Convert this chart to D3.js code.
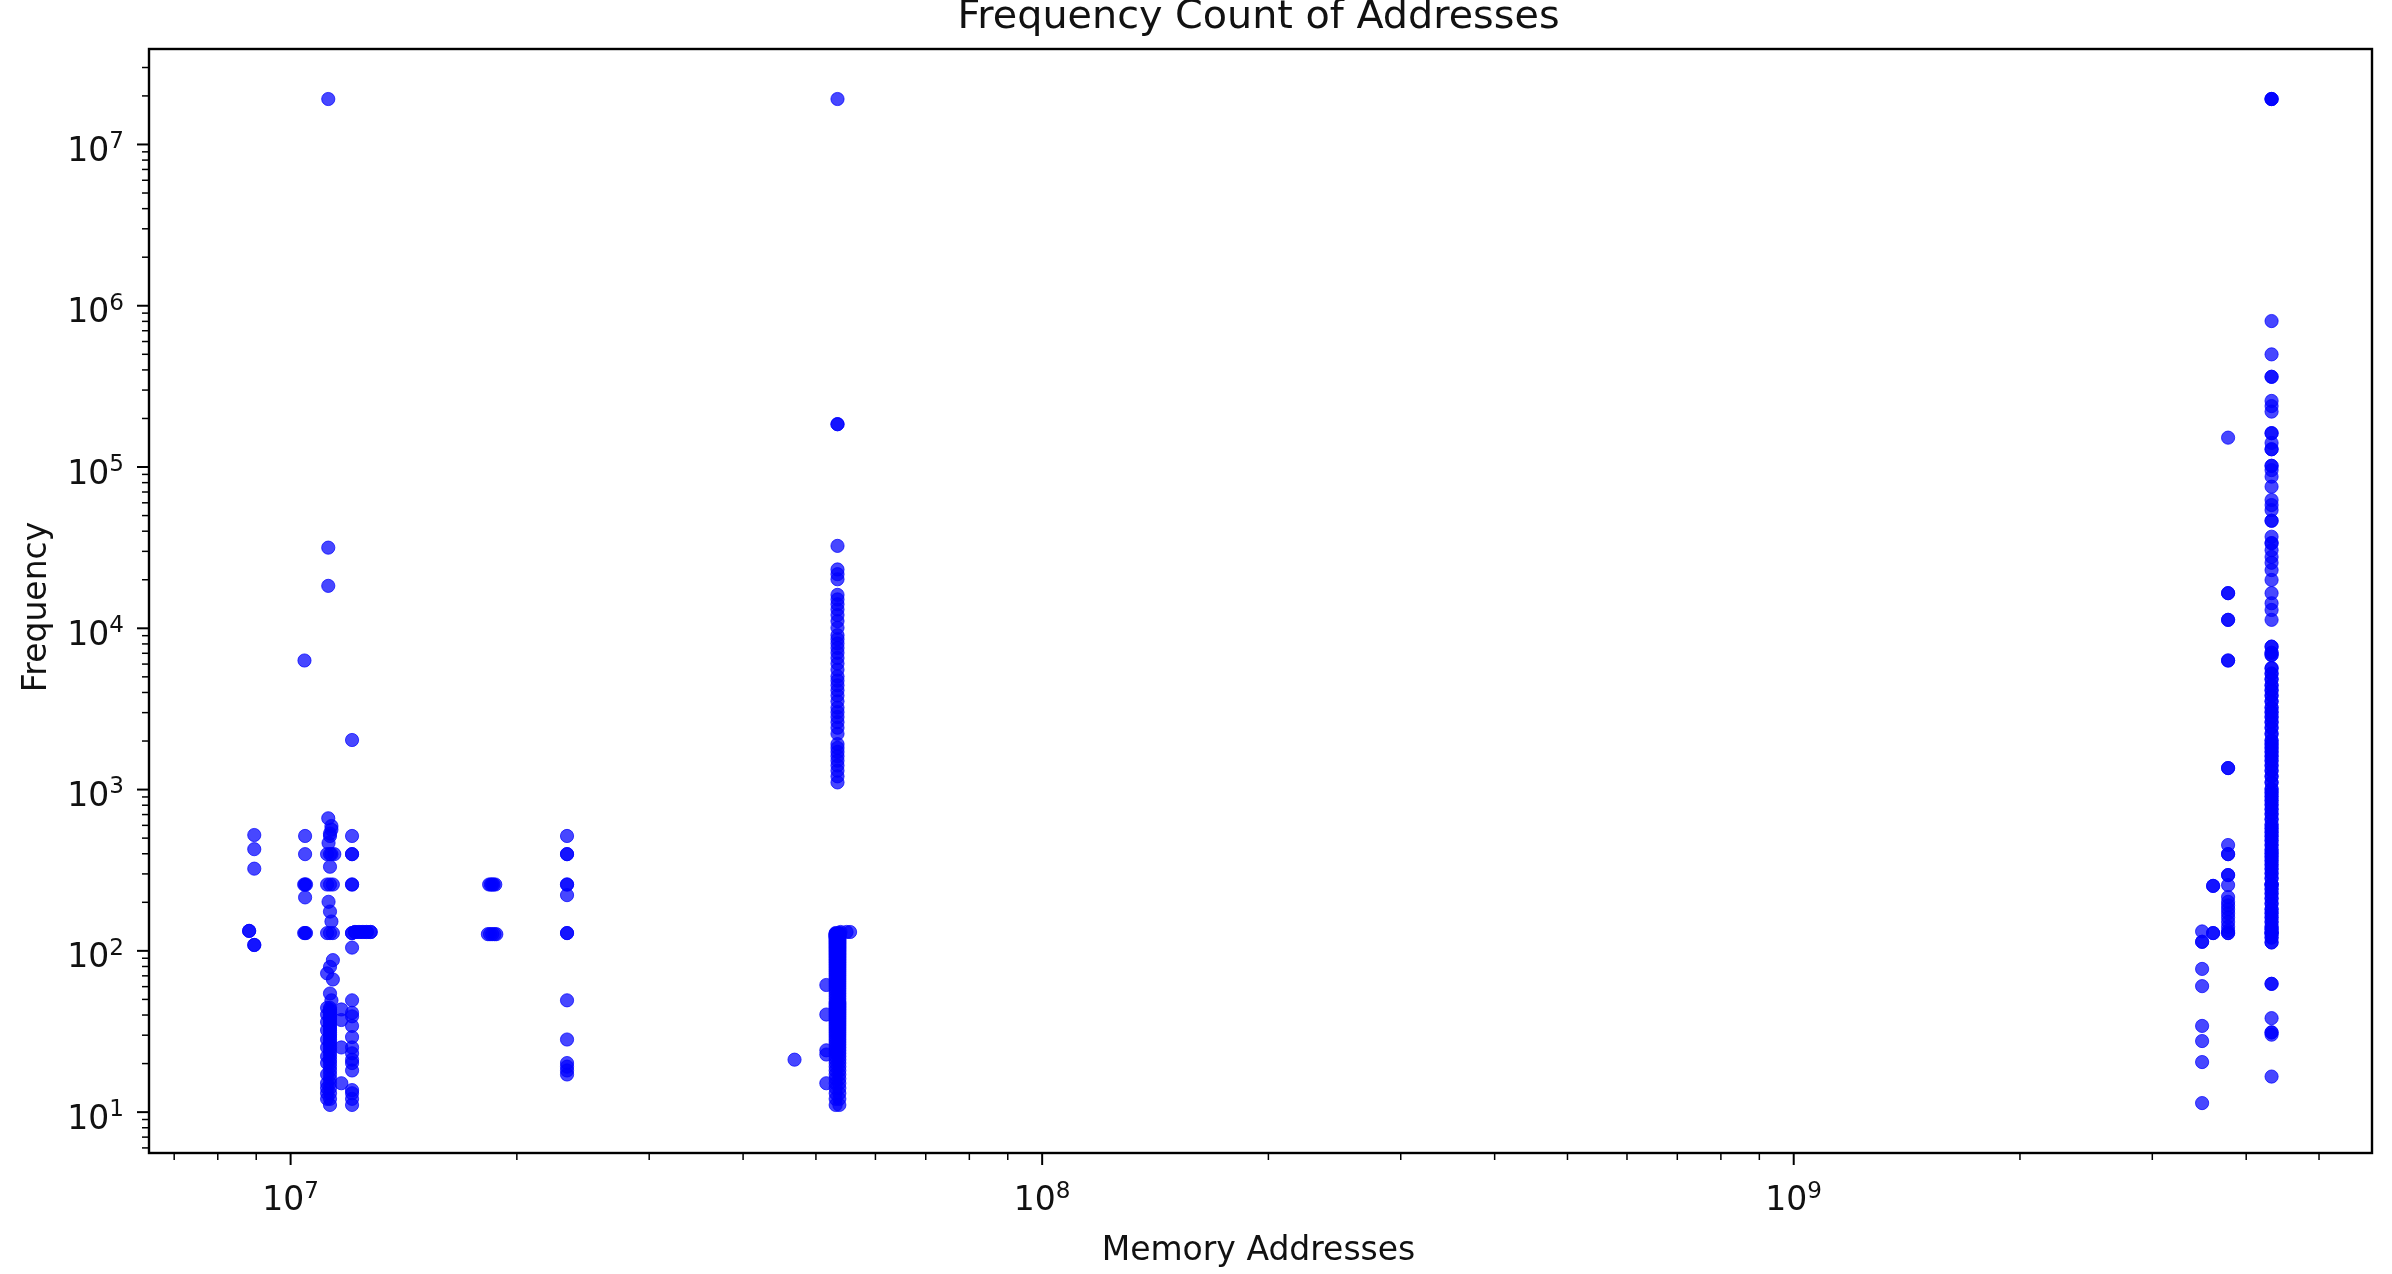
<!DOCTYPE html>
<html>
<head>
<meta charset="utf-8">
<script src="https://cdn.jsdelivr.net/npm/d3@7"></script>
<style>
  body { margin: 0; background: #fff; }
  svg { display: block; filter: blur(0.6px); }
  text { font-family: "DejaVu Sans", sans-serif; fill: #111; }
</style>
</head>
<body>
<div id="scatter"></div>
<script>
// values, one address group per array pair
var addrMisc = [1.124e7, 1.124e7, 1.124e7, 1.045e7, 1.209e7, 5.35e7, 4.33e9, 4.33e9, 4.33e9];
var freqMisc = [19000000, 31400, 18200, 6270, 2015, 19000000, 19000000, 19000000, 19000000];

var freq896 = [519, 424, 321, 108, 108];
var freq882 = [132, 132];
var addr1047 = [1.047e7, 1.047e7, 1.044e7, 1.047e7, 1.05e7, 1.047e7, 1.044e7, 1.047e7, 1.05e7];
var freq1047 = [512, 395, 256, 256, 256, 213, 128, 128, 128];

var addr113Top = [1.124e7, 1.135e7, 1.135e7, 1.13e7, 1.13e7, 1.125e7, 1.13e7, 1.12e7, 1.135e7, 1.145e7, 1.13e7, 1.12e7, 1.13e7, 1.14e7, 1.125e7, 1.13e7, 1.135e7, 1.12e7, 1.13e7, 1.14e7, 1.14e7, 1.13e7, 1.12e7, 1.14e7, 1.13e7, 1.135e7];
var freq113Top = [659, 590, 560, 530, 512, 463, 395, 395, 395, 395, 330, 256, 256, 256, 200, 174, 151, 128, 128, 128, 87, 79, 72, 66, 54, 49];
var freq113Low = [44, 43, 42, 41, 40, 39, 38, 37, 36, 35, 34, 33, 32, 31, 30, 29, 28, 27, 26, 25, 24, 23, 22, 21, 20, 19, 18, 17, 16, 15, 14, 13, 12, 11];
var freq112Low = [44, 40, 36, 32, 28, 25, 22, 20, 17, 15, 14, 13, 12];
var freq117 = [43, 37, 25, 15];

var freq121 = [512, 395, 395, 256, 256, 128, 128, 104, 49, 41, 39, 34, 29, 25, 23, 21, 20, 18, 13.6, 13, 12, 11];
var addr128Row = [1.22e7, 1.235e7, 1.25e7, 1.265e7, 1.28e7, 1.22e7, 1.235e7, 1.25e7, 1.265e7, 1.28e7];
var freq128Row = [130, 130, 130, 130, 130, 130, 130, 130, 130, 130];

var addr186 = [1.84e7, 1.85e7, 1.857e7, 1.865e7, 1.875e7, 1.833e7, 1.845e7, 1.857e7, 1.87e7, 1.881e7];
var freq186 = [256, 256, 256, 256, 256, 126, 126, 126, 126, 126];

var freq234 = [512, 395, 395, 256, 256, 220, 128, 128, 49, 28, 20, 19, 18, 17];

var freq535Top = [183000, 183000, 32200, 23000, 21500, 20000, 16000, 15000, 14000, 13000, 12000, 11000, 10000, 9000, 8500, 8000, 7500, 7000, 6500, 6000, 5500, 5000, 4700, 4400, 4100, 3800, 3500, 3200, 3000, 2800, 2600, 2400, 2200, 1900, 1800, 1700, 1600, 1500, 1400, 1300, 1200, 1100];
var freq535Low = [128, 127, 126, 125, 124, 123, 122, 121, 120, 118, 116, 114, 112, 110, 108, 106, 104, 102, 100, 98, 96, 94, 92, 90, 88, 86, 84, 82, 80, 78, 76, 74, 72, 70, 68, 66, 64, 62, 60, 58, 56, 54, 52, 50, 48, 47, 46, 45, 44, 43, 42, 41, 40, 39, 38, 37, 36, 35, 34, 33, 32, 31, 30, 29, 28, 27, 26, 25, 24, 23, 22, 21, 20, 19, 18, 17, 16, 15, 14, 13, 12, 11];
var addr535Side = [5.4e7, 5.5e7, 5.56e7, 5.17e7, 5.17e7, 5.17e7, 5.17e7, 5.17e7, 4.69e7];
var freq535Side = [130, 130, 130, 61, 40, 24, 22.6, 15, 21];

var freq433Top = [798000, 496000, 360000, 360000, 255000, 237000, 219000, 161000, 161000, 140000, 128000, 128000, 101000, 101000, 95000, 86500, 75000, 62000, 57700, 53700, 46100, 46100, 36700, 33500, 33500, 30300, 27500, 25300, 22800, 19800, 16400, 14200, 12900, 11200];
var freq433Low = [7640, 7000, 6780, 5620, 5200, 4800, 4400, 4100, 3800, 3500, 3200, 3000, 2800, 2600, 2400, 2200, 2000, 1900, 1800, 1700, 1600, 1500, 1400, 1300, 1200, 1100, 1000, 950, 900, 850, 800, 750, 700, 650, 600, 570, 540, 510, 480, 450, 420, 400, 380, 360, 340, 320, 300, 280, 256, 256, 240, 225, 210, 195, 180, 170, 160, 150, 140, 135, 128, 128, 120, 112];
var freq433Tail = [62, 62, 38, 31, 31, 30, 16.5];

var freq379 = [151000, 16400, 16400, 11200, 11200, 6270, 6270, 1350, 1350, 450, 395, 395, 293, 293, 254, 214, 200, 190, 180, 170, 160, 150, 140, 132, 128, 128];
var freq362 = [251, 251, 128, 128];
var freq350 = [131, 113, 113, 76.7, 60, 34, 27.4, 20.3, 11.3];

// axis ticks
var xMajorTicks = [1e7, 1e8, 1e9];
var xMinorTicks = [7e6, 8e6, 9e6, 2e7, 3e7, 4e7, 5e7, 6e7, 7e7, 8e7, 9e7, 2e8, 3e8, 4e8, 5e8, 6e8, 7e8, 8e8, 9e8, 2e9, 3e9, 4e9, 5e9];
var yMajorTicks = [1e1, 1e2, 1e3, 1e4, 1e5, 1e6, 1e7];
var yMinorTicks = [6, 7, 8, 9, 20, 30, 40, 50, 60, 70, 80, 90, 200, 300, 400, 500, 600, 700, 800, 900, 2e3, 3e3, 4e3, 5e3, 6e3, 7e3, 8e3, 9e3, 2e4, 3e4, 4e4, 5e4, 6e4, 7e4, 8e4, 9e4, 2e5, 3e5, 4e5, 5e5, 6e5, 7e5, 8e5, 9e5, 2e6, 3e6, 4e6, 5e6, 6e6, 7e6, 8e6, 9e6, 2e7, 3e7];

// pair up one address with a list of frequencies
function column(addr, freqs) {
  return freqs.map(function(f) { return { addr: addr, freq: f }; });
}
function pairs(addrs, freqs) {
  return freqs.map(function(f, i) { return { addr: addrs[i], freq: f }; });
}

var points = [].concat(
  pairs(addrMisc, freqMisc),
  column(8.96e6, freq896),
  column(8.82e6, freq882),
  pairs(addr1047, freq1047),
  pairs(addr113Top, freq113Top),
  column(1.13e7, freq113Low),
  column(1.12e7, freq112Low),
  column(1.17e7, freq117),
  column(1.209e7, freq121),
  pairs(addr128Row, freq128Row),
  pairs(addr186, freq186),
  column(2.336e7, freq234),
  column(5.35e7, freq535Top),
  column(5.32e7, freq535Low),
  column(5.38e7, freq535Low),
  pairs(addr535Side, freq535Side),
  column(4.33e9, freq433Top),
  column(4.33e9, freq433Low),
  column(4.33e9, freq433Low),
  column(4.33e9, freq433Tail),
  column(3.79e9, freq379),
  column(3.62e9, freq362),
  column(3.50e9, freq350)
);

//svg container
var svgWidth = 2392;
var svgHeight = 1274;

var margin = { top: 49, right: 20, bottom: 121, left: 149 };
var width = svgWidth - margin.left - margin.right;
var height = svgHeight - margin.top - margin.bottom;

var svg = d3.select("#scatter")
  .append("svg")
  .attr("width", svgWidth)
  .attr("height", svgHeight);

var chartGroup = svg.append("g")
  .attr("transform", `translate(${margin.left}, ${margin.top})`);

var xScale = d3.scaleLog().domain([6.49e6, 5.89e9]).range([0, width]);
var yScale = d3.scaleLog().domain([5.54, 3.88e7]).range([height, 0]);

// dots
chartGroup.selectAll("circle")
  .data(points)
  .enter()
  .append("circle")
  .attr("cx", d => xScale(d.addr))
  .attr("cy", d => yScale(d.freq))
  .attr("r", 6.6)
  .attr("fill", "#0000ff")
  .attr("fill-opacity", 0.72)
  .attr("stroke", "#0000ff")
  .attr("stroke-opacity", 0.72)
  .attr("stroke-width", 1);

// 10^n labels with a raised exponent
function powerLabel(sel) {
  sel.each(function(d) {
    var t = d3.select(this).text("");
    t.append("tspan").text("10");
    t.append("tspan")
      .attr("dy", "-0.55em")
      .style("font-size", "0.7em")
      .text(Math.round(Math.log10(d)));
  });
}

function styleAxis(g) {
  g.selectAll(".domain").remove();
  g.selectAll("line").attr("stroke", "#000");
}

var xAxis = chartGroup.append("g")
  .attr("transform", `translate(0, ${height})`)
  .call(d3.axisBottom(xScale).tickValues(xMajorTicks).tickSize(12).tickPadding(22));
xAxis.call(styleAxis);
xAxis.selectAll("line").attr("stroke-width", 2);
xAxis.selectAll("text").style("font-size", "33px").call(powerLabel);

var xMinor = chartGroup.append("g")
  .attr("transform", `translate(0, ${height})`)
  .call(d3.axisBottom(xScale).tickValues(xMinorTicks).tickSize(7).tickFormat(""));
xMinor.call(styleAxis);
xMinor.selectAll("line").attr("stroke-width", 1.5);

var yAxis = chartGroup.append("g")
  .call(d3.axisLeft(yScale).tickValues(yMajorTicks).tickSize(12).tickPadding(13));
yAxis.call(styleAxis);
yAxis.selectAll("line").attr("stroke-width", 2);
yAxis.selectAll("text").attr("dy", "0.5em").style("font-size", "33px").call(powerLabel);

var yMinor = chartGroup.append("g")
  .call(d3.axisLeft(yScale).tickValues(yMinorTicks).tickSize(7).tickFormat(""));
yMinor.call(styleAxis);
yMinor.selectAll("line").attr("stroke-width", 1.5);

// frame
chartGroup.append("rect")
  .attr("width", width)
  .attr("height", height)
  .attr("fill", "none")
  .attr("stroke", "#000")
  .attr("stroke-width", 2.4);

// title and axis labels
svg.append("text")
  .attr("x", margin.left + width / 2 - 2)
  .attr("y", 28)
  .attr("text-anchor", "middle")
  .style("font-size", "39.7px")
  .text("Frequency Count of Addresses");

svg.append("text")
  .attr("x", margin.left + width / 2 - 2)
  .attr("y", 1260)
  .attr("text-anchor", "middle")
  .style("font-size", "33px")
  .text("Memory Addresses");

svg.append("text")
  .attr("transform", `translate(46, ${margin.top + height / 2 + 6}) rotate(-90)`)
  .attr("text-anchor", "middle")
  .style("font-size", "33px")
  .text("Frequency");
</script>
</body>
</html>
